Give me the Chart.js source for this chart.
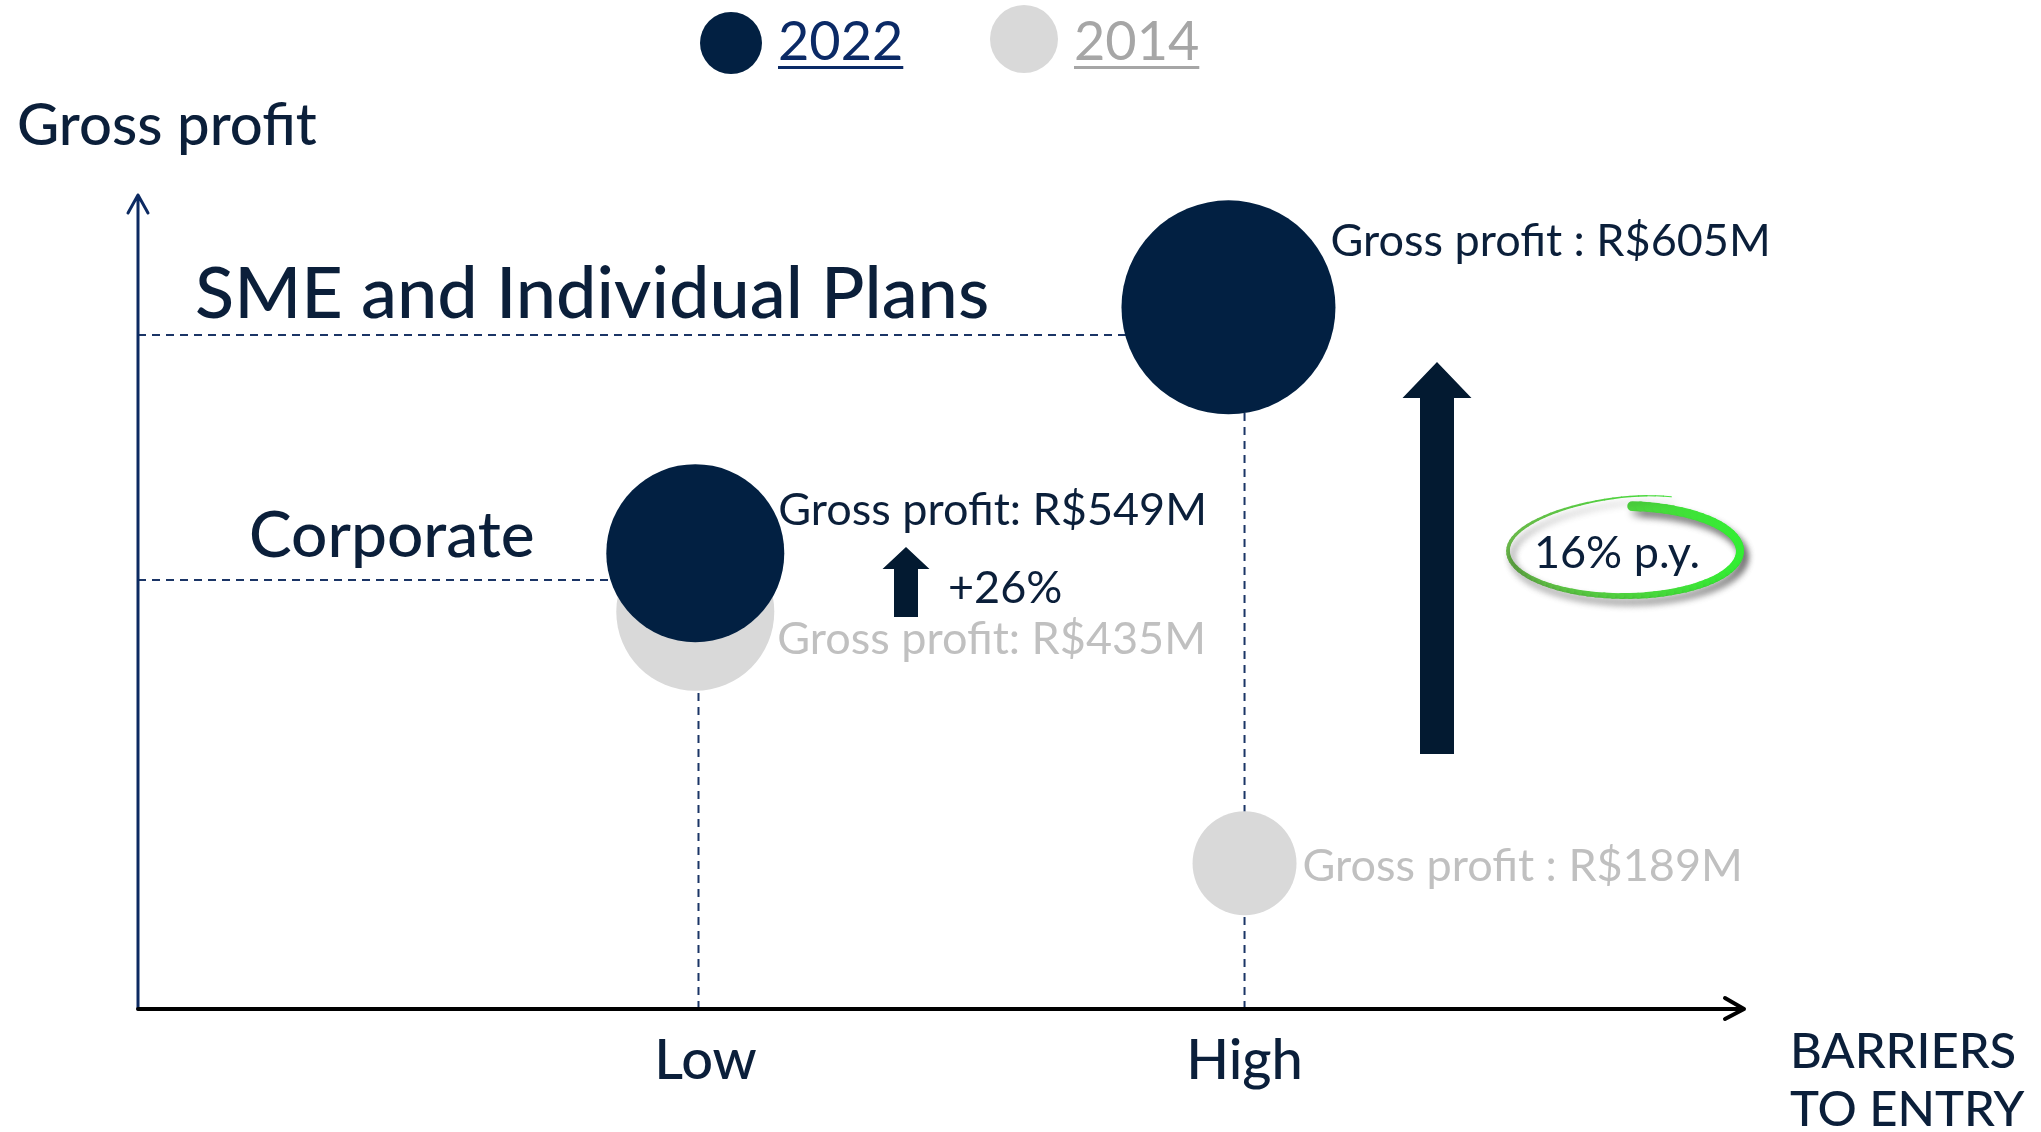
<!DOCTYPE html>
<html>
<head>
<meta charset="utf-8">
<title>Gross profit x barriers to entry</title>
<script src="https://cdn.jsdelivr.net/npm/chart.js@4.4.1/dist/chart.umd.min.js"></script>
<style>
  html, body { margin: 0; padding: 0; background: #fff; }
  canvas { display: block; }
</style>
</head>
<body>
<canvas id="chart" width="2041" height="1132"></canvas>
<script>
// ── Dados ────────────────────────────────────────────────────────────────────
const years = ['2022', '2014'];
const segments = ['Corporate', 'SME and Individual Plans'];
const profit2022 = [549, 605];          // R$ M
const profit2014 = [435, 189];
const labelSep = ['', ' '];             // "Gross profit:" vs "Gross profit :"

// posição nos eixos (sem escala numérica visível, 0–100)
const barrier2022 = [34.7, 67.9];
const barrier2014 = [34.7, 68.9];
const level2022 = [56.0, 86.2];
const level2014 = [48.8, 17.9];
const segmentLevels = [52.7, 82.8];     // linhas tracejadas horizontais

const xTickValues = [34.9, 68.9];
const xTickLabels = ['Low', 'High'];
const growthLabels = ['+26%', '16% p.y.'];

// ── Estilo ───────────────────────────────────────────────────────────────────
const NAVY = '#022042';
const GREY = '#d9d9d9';
const TEXT = '#0b1f3a';
const GREY_TEXT = '#c0c0c0';
const ARROW = '#031a31';
const FONT = 'Lato, "Noto Sans", sans-serif';

const radius2022 = [89, 107];
const radius2014 = [79, 52];
// deslocamento do rótulo em relação ao centro da bolha (px)
const labelOffset2022 = [[83, -43], [102, -66]];
const labelOffset2014 = [[82, 28], [58, 3]];
const tickNudge = [7, 0];

const pts = (xs, ys) => xs.map((x, i) => ({ x, y: ys[i] }));
const font = (size, weight = 400) => `${weight} ${size}px ${FONT}`;

function guide(points) {
    return {
        type: 'line',
        data: points,
        borderColor: '#1b3566',
        borderWidth: 2,
        borderDash: [8, 6],
        pointRadius: 0,
        fill: false,
        order: 2,
        clip: false
    };
}

// ── Desenho extra (eixos, rótulos, setas, legenda) ───────────────────────────
function arrowUp(ctx, x, top, bottom, shaftW, headW, headH) {
    ctx.beginPath();
    ctx.moveTo(x, top);
    ctx.lineTo(x + headW / 2, top + headH);
    ctx.lineTo(x + shaftW / 2, top + headH);
    ctx.lineTo(x + shaftW / 2, bottom);
    ctx.lineTo(x - shaftW / 2, bottom);
    ctx.lineTo(x - shaftW / 2, top + headH);
    ctx.lineTo(x - headW / 2, top + headH);
    ctx.closePath();
    ctx.fill();
}

function greenLoop(ctx, cx, cy, rx, ry) {
    ctx.save();
    ctx.shadowColor = 'rgba(0,0,0,0.30)';
    ctx.shadowBlur = 7;
    ctx.shadowOffsetX = 4;
    ctx.shadowOffsetY = 6;
    const grad = ctx.createLinearGradient(cx - rx, 0, cx + rx, 0);
    grad.addColorStop(0, '#6ab94a');
    grad.addColorStop(1, '#33ee33');
    ctx.strokeStyle = grad;
    ctx.lineCap = 'round';
    const a0 = -1.5, a1 = -1.15 + 2 * Math.PI;
    const N = 90;
    let prev = null;
    for (let i = 0; i <= N; i++) {
        const t = i / N;
        const a = a0 + (a1 - a0) * t;
        const u = t > 0.7 ? (t - 0.7) / 0.3 : 0;
        const sy = 1 + 0.32 * u * u;
        const p = [cx + rx * Math.cos(a), cy + ry * sy * Math.sin(a)];
        if (prev) {
            ctx.lineWidth = 10 - 9 * t;
            ctx.beginPath();
            ctx.moveTo(prev[0], prev[1]);
            ctx.lineTo(p[0], p[1]);
            ctx.stroke();
        }
        prev = p;
    }
    ctx.restore();
}

const decor = {
    id: 'decor',
    afterDatasetsDraw(chart) {
        const { ctx, scales: { x, y } } = chart;
        const x0 = x.getPixelForValue(0), y0 = y.getPixelForValue(0);
        const xEnd = x.getPixelForValue(100), yTop = y.getPixelForValue(100);
        ctx.save();
        ctx.lineCap = 'round';
        ctx.lineJoin = 'round';

        // eixo Y
        ctx.strokeStyle = '#0c2a62';
        ctx.lineWidth = 3;
        ctx.beginPath();
        ctx.moveTo(x0, y0); ctx.lineTo(x0, yTop);
        ctx.moveTo(x0 - 10, yTop + 18); ctx.lineTo(x0, yTop); ctx.lineTo(x0 + 10, yTop + 18);
        ctx.stroke();

        // eixo X
        ctx.strokeStyle = '#000';
        ctx.lineWidth = 4;
        ctx.beginPath();
        ctx.moveTo(x0, y0); ctx.lineTo(xEnd, y0);
        ctx.moveTo(xEnd - 19, y0 - 11); ctx.lineTo(xEnd, y0); ctx.lineTo(xEnd - 19, y0 + 10);
        ctx.stroke();

        // rótulos do eixo X
        ctx.fillStyle = TEXT;
        ctx.textBaseline = 'middle';
        ctx.textAlign = 'center';
        ctx.font = font(56, 500);
        xTickValues.forEach((v, i) =>
            ctx.fillText(xTickLabels[i], x.getPixelForValue(v) + tickNudge[i], y0 + 52));

        ctx.textAlign = 'left';
        ctx.font = font(49, 500);
        ctx.fillText('BARRIERS', 1790, 1052);
        ctx.fillText('TO ENTRY', 1790, 1110);

        // título do eixo Y
        ctx.font = font(58, 500);
        ctx.fillText('Gross profit', 17, 126);

        // nomes dos segmentos
        ctx.font = font(72, 500);
        ctx.fillText(segments[1], 195, 295);
        ctx.font = font(64, 500);
        ctx.fillText(segments[0], 249, 536);

        // rótulos das bolhas
        ctx.font = font(45);
        const m22 = chart.getDatasetMeta(0).data;
        const m14 = chart.getDatasetMeta(1).data;
        ctx.fillStyle = TEXT;
        m22.forEach((pt, i) => {
            ctx.fillText(`Gross profit${labelSep[i]}: R$${profit2022[i]}M`,
                pt.x + labelOffset2022[i][0], pt.y + labelOffset2022[i][1]);
        });
        ctx.fillStyle = GREY_TEXT;
        m14.forEach((pt, i) => {
            ctx.fillText(`Gross profit${labelSep[i]}: R$${profit2014[i]}M`,
                pt.x + labelOffset2014[i][0], pt.y + labelOffset2014[i][1]);
        });

        // setas de crescimento
        ctx.fillStyle = ARROW;
        arrowUp(ctx, 906, 547, 617, 24, 47, 22);
        arrowUp(ctx, 1437, 362, 754, 34, 69, 36);
        ctx.fillStyle = TEXT;
        ctx.font = font(45);
        ctx.fillText(growthLabels[0], 948, 588);

        greenLoop(ctx, 1624, 551, 116, 45);
        ctx.fillStyle = TEXT;
        ctx.font = font(45);
        ctx.textAlign = 'center';
        ctx.fillText(growthLabels[1], 1617, 553);

        // legenda
        const legend = [
            { cx: 731, cy: 43, r: 31, fill: NAVY, text: '#0b2a66', tx: 778 },
            { cx: 1024, cy: 39, r: 34, fill: GREY, text: '#a6a6a6', tx: 1074 }
        ];
        ctx.textAlign = 'left';
        ctx.font = font(54);
        legend.forEach((l, i) => {
            ctx.fillStyle = l.fill;
            ctx.beginPath();
            ctx.arc(l.cx, l.cy, l.r, 0, Math.PI * 2);
            ctx.fill();
            ctx.fillStyle = l.text;
            ctx.fillText(years[i], l.tx, 43);
            const w = ctx.measureText(years[i]).width;
            ctx.fillRect(l.tx, 66, w, 3);
        });
        ctx.restore();
    }
};

// ── Gráfico ──────────────────────────────────────────────────────────────────
new Chart(document.getElementById('chart'), {
    type: 'bubble',
    data: {
        datasets: [
            {
                label: years[0],
                data: pts(barrier2022, level2022),
                backgroundColor: NAVY,
                borderWidth: 0,
                radius: c => radius2022[c.dataIndex],
                order: 0,
                clip: false
            },
            {
                label: years[1],
                data: pts(barrier2014, level2014),
                backgroundColor: GREY,
                borderWidth: 0,
                radius: c => radius2014[c.dataIndex],
                order: 1,
                clip: false
            },
            guide([{ x: 0, y: segmentLevels[1] }, { x: barrier2022[1], y: segmentLevels[1] }]),
            guide([{ x: 0, y: segmentLevels[0] }, { x: barrier2022[0], y: segmentLevels[0] }]),
            guide([{ x: xTickValues[0], y: 0 }, { x: xTickValues[0], y: level2014[0] }]),
            guide([{ x: xTickValues[1], y: 0 }, { x: xTickValues[1], y: level2022[1] }])
        ]
    },
    options: {
        responsive: false,
        animation: false,
        events: [],
        layout: { padding: { left: 138, right: 297, top: 195, bottom: 123 } },
        scales: {
            x: { type: 'linear', min: 0, max: 100, display: false },
            y: { type: 'linear', min: 0, max: 100, display: false }
        },
        plugins: {
            legend: { display: false },
            tooltip: { enabled: false }
        }
    },
    plugins: [decor]
});
</script>
</body>
</html>
